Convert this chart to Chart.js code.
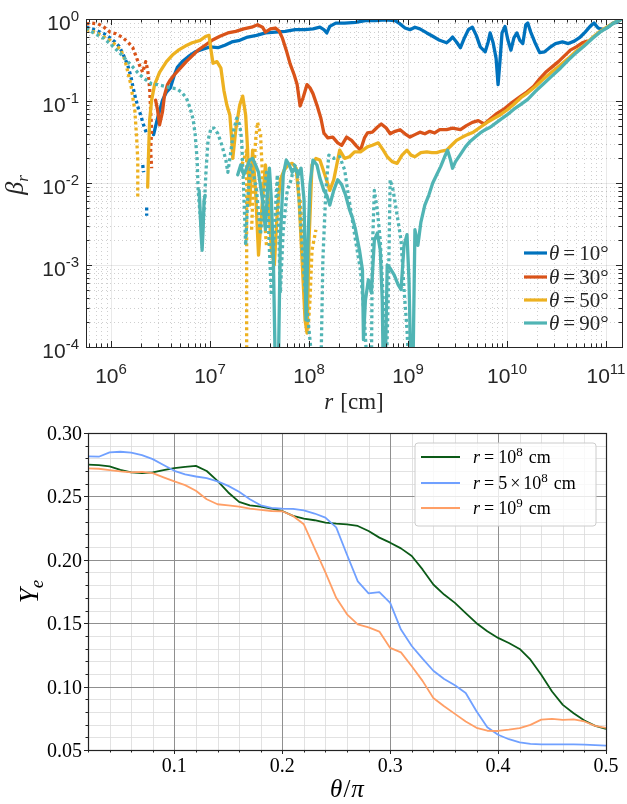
<!DOCTYPE html>
<html>
<head>
<meta charset="utf-8">
<script src="https://cdn.jsdelivr.net/npm/chart.js@4.4.1/dist/chart.umd.min.js"></script>
<style>
  html, body { margin: 0; padding: 0; background: #fff; }
  #wrap { position: relative; width: 627px; height: 804px; }
  #topBox { position: absolute; left: 0; top: 0; }
  #bottomBox { position: absolute; left: 0; top: 420px; }
</style>
</head>
<body>
<div id="wrap">
  <div id="topBox"><canvas id="betaChart" width="627" height="420"></canvas></div>
  <div id="bottomBox"><canvas id="yeChart" width="627" height="384"></canvas></div>
</div>
<script>
/*=============== DATA: beta_r vs r (values are log10 r [cm], log10 beta_r) ===============*/
// solid = outflow, dotted = inflow; null breaks the line

// theta = 10 deg
const th10R = [6.43,6.47,6.52,6.56,6.60,6.64,6.67,6.72,6.78,6.85,6.92,7.00,7.08,7.15,7.22,7.30,7.38,7.47,7.56,7.66,7.76,7.86,7.96,8.04,8.11,8.15,8.18,8.21,8.27,8.36,8.47,8.57,8.67,8.77,8.87,8.92,8.97,9.02,9.07,9.12,9.19,9.25,9.32,9.39,9.42,9.45,9.49,9.53,9.57,9.61,9.65,9.69,9.73,9.78,9.81,9.83,9.86,9.89,9.91,9.93,9.95,9.98,10.01,10.04,10.07,10.10,10.13,10.16,10.19,10.21,10.24,10.28,10.33,10.38,10.43,10.49,10.56,10.62,10.68,10.74,10.79,10.84,10.88,10.92,10.97,11.02,11.07,11.11,11.16]
const th10B = [-1.41,-1.21,-0.99,-0.89,-0.84,-0.68,-0.59,-0.52,-0.46,-0.40,-0.37,-0.34,-0.35,-0.32,-0.28,-0.26,-0.22,-0.20,-0.17,-0.16,-0.15,-0.13,-0.13,-0.12,-0.10,-0.13,-0.17,-0.09,-0.05,-0.05,-0.04,-0.02,-0.02,-0.01,-0.02,-0.06,-0.11,-0.13,-0.10,-0.12,-0.17,-0.21,-0.26,-0.29,-0.26,-0.22,-0.28,-0.35,-0.23,-0.13,-0.10,-0.20,-0.34,-0.40,-0.28,-0.17,-0.29,-0.48,-0.80,-0.50,-0.17,-0.09,-0.26,-0.38,-0.23,-0.17,-0.26,-0.30,-0.07,-0.05,-0.16,-0.28,-0.41,-0.40,-0.35,-0.30,-0.28,-0.30,-0.27,-0.22,-0.16,-0.09,-0.05,-0.11,-0.13,-0.10,-0.05,-0.04,0]
const th10InR = [5.75,5.81,5.87,5.93,5.99,6.04,6.08,6.11,6.14,6.17,6.20,6.22,6.24,6.26,6.28,6.30,6.32,6.34,6.36,6.36,6.32,6.33,6.33,6.36,6.36]
const th10InB = [-0.10,-0.12,-0.15,-0.18,-0.23,-0.28,-0.33,-0.40,-0.48,-0.57,-0.70,-0.82,-0.93,-1.02,-1.11,-1.17,-1.26,-1.33,-1.40,null,-1.78,-1.87,null,-2.30,-2.40]

// theta = 30 deg
const th30R = [6.45,6.47,6.49,6.52,6.54,6.57,6.60,6.64,6.70,6.76,6.82,6.88,6.95,7.02,7.10,7.18,7.26,7.34,7.42,7.48,7.53,7.56,7.61,7.66,7.70,7.73,7.77,7.81,7.85,7.88,7.91,7.94,7.98,8.01,8.04,8.08,8.12,8.15,8.19,8.24,8.29,8.33,8.38,8.43,8.48,8.52,8.56,8.59,8.64,8.69,8.73,8.78,8.82,8.87,8.92,8.97,9.02,9.07,9.12,9.17,9.22,9.27,9.32,9.39,9.45,9.53,9.59,9.65,9.71,9.77,9.83,9.90,9.98,10.05,10.13,10.20,10.27,10.33,10.39,10.45,10.52,10.58,10.64,10.70,10.76,10.81]
const th30B = [-0.99,-1.11,-1.29,-1.13,-0.93,-0.80,-0.74,-0.68,-0.60,-0.52,-0.45,-0.38,-0.32,-0.26,-0.21,-0.17,-0.15,-0.12,-0.10,-0.07,-0.10,-0.16,-0.12,-0.11,-0.15,-0.23,-0.38,-0.55,-0.68,-0.80,-1.06,-0.96,-0.80,-0.84,-0.91,-1.05,-1.21,-1.39,-1.45,-1.44,-1.51,-1.54,-1.44,-1.48,-1.55,-1.60,-1.45,-1.39,-1.38,-1.32,-1.28,-1.33,-1.40,-1.37,-1.35,-1.40,-1.44,-1.41,-1.38,-1.40,-1.37,-1.39,-1.35,-1.35,-1.33,-1.35,-1.30,-1.26,-1.24,-1.28,-1.22,-1.15,-1.09,-1.02,-0.95,-0.89,-0.82,-0.73,-0.65,-0.59,-0.52,-0.45,-0.38,-0.34,-0.29,-0.27]
const th30InR = [5.75,5.81,5.87,5.93,5.99,6.05,6.11,6.17,6.22,6.26,6.29,6.32,6.35,6.37,6.39,6.40,6.41,6.40,6.41]
const th30InB = [-0.06,-0.05,-0.06,-0.10,-0.16,-0.18,-0.22,-0.28,-0.35,-0.48,-0.57,-0.65,-0.52,-0.62,-0.84,-1.11,-1.35,-1.60,-1.82]

// theta = 50 deg
const th50R = [6.37,6.38,6.39,6.41,6.44,6.49,6.56,6.62,6.68,6.75,6.82,6.90,6.96,6.99,7.01,7.03,7.07,7.11,7.14,7.17,7.20,7.22,7.23,7.26,7.30,7.33,7.36,7.38,7.40,7.43,7.46,7.49,7.53,7.56,7.59,7.62,7.65,7.68,7.71,7.75,7.79,7.83,7.87,7.90,7.93,7.96,7.98,8.00,8.03,8.07,8.11,8.16,8.21,8.25,8.31,8.36,8.41,8.46,8.52,8.59,8.64,8.70,8.75,8.79,8.84,8.89,8.94,8.99,9.03,9.07,9.13,9.19,9.24,9.29,9.34,9.39,9.44,9.49,9.55,9.60,9.66,9.73,9.80,9.87,9.93,10.00,10.07,10.14,10.21,10.29,10.37,10.45,10.54,10.62,10.70,10.78,10.86,10.94,11.02,11.09,11.16]
const th50B = [-2.05,-1.60,-1.23,-0.99,-0.80,-0.65,-0.52,-0.44,-0.38,-0.33,-0.29,-0.26,-0.21,-0.20,-0.38,-0.54,-0.52,-0.60,-0.87,-1.05,-1.17,-1.48,-1.70,-1.35,-1.05,-0.94,-1.17,-1.60,-2.27,-1.60,-2.09,-2.88,-2.21,-1.78,-2.21,-2.82,-3.00,-2.33,-1.96,-1.84,-1.78,-1.76,-1.82,-2.21,-2.94,-3.67,-3.83,-2.70,-1.78,-1.70,-1.72,-1.90,-2.09,-1.96,-1.60,-1.70,-1.68,-1.62,-1.62,-1.56,-1.54,-1.51,-1.60,-1.68,-1.74,-1.76,-1.66,-1.60,-1.66,-1.68,-1.63,-1.62,-1.63,-1.63,-1.61,-1.60,-1.54,-1.48,-1.44,-1.41,-1.38,-1.32,-1.26,-1.21,-1.17,-1.11,-1.04,-0.96,-0.90,-0.82,-0.73,-0.65,-0.56,-0.48,-0.39,-0.32,-0.23,-0.15,-0.09,-0.04,0]
const th50InR = [5.75,5.81,5.87,5.93,5.99,6.05,6.10,6.14,6.17,6.20,6.22,6.24,6.25,6.26,6.27,6.27,6.27,6.27,7.30,7.34,7.37,7.37,7.37,7.37,7.37,7.37,7.42,7.44,7.46,7.48,7.51,7.53,7.55,7.57,7.57,7.91,7.94,7.97,7.99,8.01,8.03,8.07]
const th50InB = [-0.13,-0.15,-0.18,-0.22,-0.26,-0.32,-0.38,-0.50,-0.65,-0.80,-0.96,-1.11,-1.29,-1.48,-1.72,-1.96,-2.17,null,-1.84,-1.72,-1.60,-2.21,-2.94,-3.43,-4.3,null,-2.57,-1.96,-1.48,-1.26,-1.41,-1.90,-2.45,-2.76,null,-2.21,-2.70,-3.30,-3.79,-3.43,-2.82,-2.57]

// theta = 90 deg
const th90R = [6.89,6.90,6.91,6.92,6.93,6.94,6.95,6.95,
  7.28,7.31,7.34,7.37,7.40,7.43,7.46,7.49,7.53,7.56,7.58,7.60,7.62,7.64,7.66,
  7.69,7.71,7.74,7.77,7.80,7.83,7.86,7.89,7.92,7.95,7.97,7.99,8.01,8.04,8.08,8.11,8.15,8.18,8.21,8.25,8.29,8.33,8.37,8.41,8.44,8.47,8.51,8.54,8.55,8.57,8.60,8.63,8.66,8.69,8.72,8.74,8.75,
  8.77,8.79,8.82,8.86,8.90,8.93,8.96,8.99,9.01,9.03,
  9.05,9.07,9.10,9.13,9.17,9.21,9.25,9.29,9.33,9.37,9.40,9.43,9.45,9.48,9.53,9.58,9.63,9.68,9.73,9.78,9.83,9.93,10.00,10.07,10.14,10.21,10.29,10.37,10.45,10.54,10.62,10.70,10.78,10.86,10.94,11.02,11.09,11.16]
const th90B = [-2.09,-2.33,-2.63,-2.82,-2.57,-2.21,-2.15,null,
  -1.90,-1.78,-1.90,-1.82,-1.72,-1.70,-1.78,-1.87,-2.21,-2.57,-2.09,-1.82,-2.21,-2.94,-4.3,
  -4.3,-2.70,-1.90,-1.72,-1.78,-1.87,-1.82,-1.90,-1.82,-2.21,-3.67,-2.70,-2.02,-1.72,-1.78,-1.94,-2.09,-2.15,-2.27,-2.09,-1.96,-2.02,-2.15,-2.33,-2.43,-2.57,-2.82,-3.06,-3.91,-3.43,-3.18,-3.34,-2.70,-2.61,-2.82,-3.43,-4.3,
  -4.3,-3.00,-3.04,-3.12,-3.24,-3.30,-2.76,-2.63,-3.18,-4.3,
  -4.3,-2.57,-2.76,-2.48,-2.27,-2.15,-2.00,-1.90,-1.80,-1.68,-1.60,-1.72,-1.82,-1.74,-1.65,-1.56,-1.49,-1.44,-1.39,-1.35,-1.32,-1.23,-1.17,-1.10,-1.04,-0.98,-0.88,-0.79,-0.70,-0.60,-0.50,-0.41,-0.33,-0.24,-0.16,-0.10,-0.04,0]
const th90InR = [5.75,5.81,5.87,5.93,5.99,6.05,6.11,6.17,6.23,6.29,6.35,6.41,6.47,6.54,6.60,6.66,6.71,6.76,6.80,6.83,6.85,6.87,6.88,6.90,6.92,6.94,6.96,6.98,7.01,7.04,7.08,7.12,7.16,7.18,7.21,7.24,7.27,7.30,7.32,7.34,7.36,7.38,7.41,7.44,7.47,7.51,7.54,7.57,7.60,7.62,7.65,7.68,7.71,7.74,7.78,7.82,7.85,7.88,7.92,7.96,8.00,8.04,
  8.12,8.14,8.17,8.20,8.25,8.31,8.36,8.39,8.43,8.47,8.52,8.56,8.59,
  8.63,8.64,8.66,8.69,8.72,8.75,8.78,
  8.80,8.82,8.85,8.89,8.93,8.96,8.99,9.01]
const th90InB = [-0.11,-0.16,-0.20,-0.24,-0.30,-0.37,-0.44,-0.52,-0.60,-0.68,-0.74,-0.79,-0.80,-0.82,-0.84,-0.85,-0.89,-0.96,-1.09,-1.23,-1.41,-1.72,-2.09,-2.39,-2.63,-2.33,-1.84,-1.48,-1.33,-1.33,-1.40,-1.54,-1.72,-1.87,-1.62,-1.35,-1.21,-1.29,-1.48,-2.09,-2.76,-2.21,-1.78,-1.90,-2.09,-2.63,-2.21,-1.87,-2.82,-3.37,-2.57,-1.90,-3.34,-2.57,-2.09,-1.96,-1.78,-1.82,-2.57,-3.30,-3.79,-4.3,
  -4.3,-2.94,-2.09,-1.66,-1.70,-1.68,-1.84,-2.09,-2.39,-2.70,-3.06,-3.67,-4.3,
  -4.3,-2.82,-2.09,-2.33,-2.70,-3.43,-4.3,
  -3.43,-1.96,-2.09,-2.39,-2.70,-3.30,-3.79,-4.3]

const thetaLabels = ['10', '30', '50', '90']
const xExponents = [6, 7, 8, 9, 10, 11]
const yExponents = [0, -1, -2, -3, -4]

/*=============== DATA: Y_e vs theta/pi ===============*/
const thetaPi = [0.02,0.03,0.04,0.05,0.06,0.07,0.08,0.09,0.10,0.11,0.12,0.13,0.14,0.15,0.16,0.17,0.18,0.19,0.20,0.21,0.22,0.23,0.24,0.25,0.26,0.27,0.28,0.29,0.30,0.31,0.32,0.33,0.34,0.35,0.36,0.37,0.38,0.39,0.40,0.41,0.42,0.43,0.44,0.45,0.46,0.47,0.48,0.49,0.50]
const yeR1e8 = [0.275,0.2747,0.2736,0.271,0.269,0.2684,0.269,0.2707,0.2723,0.2733,0.2741,0.270,0.2623,0.2531,0.2457,0.243,0.242,0.2404,0.2385,0.2346,0.2325,0.2312,0.2293,0.2285,0.228,0.2267,0.2227,0.2175,0.2135,0.209,0.203,0.1924,0.1805,0.1726,0.166,0.158,0.150,0.1436,0.1384,0.1344,0.1297,0.1212,0.1093,0.0961,0.0856,0.079,0.0732,0.069,0.0666]
const yeR5e8 = [0.2816,0.2813,0.2847,0.2852,0.2845,0.2826,0.2794,0.2747,0.2702,0.2673,0.2657,0.2644,0.2618,0.2583,0.2536,0.2478,0.243,0.2409,0.2404,0.2402,0.239,0.2365,0.2333,0.2256,0.204,0.183,0.1735,0.1745,0.166,0.145,0.132,0.122,0.1125,0.106,0.101,0.095,0.0805,0.068,0.062,0.0585,0.056,0.0548,0.0545,0.0545,0.0545,0.0545,0.0542,0.0538,0.0534]
const yeR1e9 = [0.2721,0.2718,0.2707,0.2697,0.269,0.2694,0.2684,0.265,0.2618,0.2589,0.2544,0.2478,0.2438,0.243,0.242,0.2404,0.2394,0.2385,0.2383,0.2346,0.228,0.209,0.19,0.17,0.157,0.149,0.1467,0.1434,0.1305,0.127,0.116,0.1045,0.091,0.0845,0.0785,0.0725,0.0675,0.0652,0.065,0.066,0.0672,0.0698,0.074,0.0745,0.0738,0.0742,0.0725,0.069,0.0674]

/*=============== HELPERS ===============*/
const C10 = '#0072BD', C30 = '#D95319', C50 = '#EDB120', C90 = '#50B4B4'
const SANS = '"Liberation Sans", Arial, sans-serif'
const serif = (size, italic) => (italic ? 'italic ' : '') + size + 'px "Liberation Serif", "DejaVu Serif", serif'

const richWidth = (ctx, parts) => parts.reduce((w, p) => {
  ctx.font = p.font
  return w + ctx.measureText(p.t).width + (p.gap || 0)
}, 0)

// draw a run of text pieces (font / vertical shift per piece)
const drawRich = (ctx, x, y, parts, align) => {
  let cx = x
  const w = richWidth(ctx, parts)
  if (align === 'center') cx -= w / 2
  if (align === 'right') cx -= w
  ctx.textAlign = 'left'
  ctx.textBaseline = 'alphabetic'
  parts.forEach(p => {
    ctx.font = p.font
    ctx.fillText(p.t, cx, y + (p.dy || 0))
    cx += ctx.measureText(p.t).width + (p.gap || 0)
  })
}

const logMarks = (scale) => {
  const out = []
  const lo = Math.floor(Math.log10(scale.min)), hi = Math.ceil(Math.log10(scale.max))
  for (let e = lo; e <= hi; e++) {
    for (let m = 1; m <= 9; m++) {
      const v = m * Math.pow(10, e)
      if (v < scale.min * 0.999 || v > scale.max * 1.001) continue
      out.push({ px: scale.getPixelForValue(v), major: m === 1 })
    }
  }
  return out
}

const line = (ctx, x1, y1, x2, y2) => {
  ctx.beginPath(); ctx.moveTo(x1, y1); ctx.lineTo(x2, y2); ctx.stroke()
}

/*=============== TOP PANEL (matlab look) ===============*/
const matlabFrame = {
  id: 'matlabFrame',
  beforeDatasetsDraw(chart) {
    const { ctx, chartArea: a, scales: { x, y } } = chart
    const xm = logMarks(x), ym = logMarks(y)
    ctx.save()
    ctx.lineWidth = 1
    // minor dotted grid
    ctx.strokeStyle = 'rgba(38,38,38,0.22)'
    ctx.setLineDash([1, 3])
    xm.filter(t => !t.major).forEach(t => { const p = Math.round(t.px) + 0.5; line(ctx, p, a.top, p, a.bottom) })
    ym.filter(t => !t.major).forEach(t => { const p = Math.round(t.px) + 0.5; line(ctx, a.left, p, a.right, p) })
    // major grid
    ctx.setLineDash([])
    ctx.strokeStyle = 'rgba(38,38,38,0.10)'
    xm.filter(t => t.major).forEach(t => { const p = Math.round(t.px) + 0.5; line(ctx, p, a.top, p, a.bottom) })
    ym.filter(t => t.major).forEach(t => { const p = Math.round(t.px) + 0.5; line(ctx, a.left, p, a.right, p) })
    ctx.restore()
  },
  afterDatasetsDraw(chart) {
    const { ctx, chartArea: a, scales: { x, y } } = chart
    ctx.save()
    ctx.strokeStyle = '#262626'
    ctx.fillStyle = '#262626'
    ctx.lineWidth = 1
    // ticks pointing inward on all four sides
    logMarks(x).forEach(t => {
      const p = Math.round(t.px) + 0.5, len = t.major ? 6 : 3.5
      line(ctx, p, a.bottom, p, a.bottom - len)
      line(ctx, p, a.top, p, a.top + len)
    })
    logMarks(y).forEach(t => {
      const p = Math.round(t.px) + 0.5, len = t.major ? 6 : 3.5
      line(ctx, a.left, p, a.left + len, p)
      line(ctx, a.right, p, a.right - len, p)
    })
    ctx.strokeRect(Math.round(a.left) + 0.5, Math.round(a.top) + 0.5, Math.round(a.right - a.left), Math.round(a.bottom - a.top))

    // tick labels 10^n
    xExponents.forEach(e => {
      const px = x.getPixelForValue(Math.pow(10, e))
      drawRich(ctx, px, 383, [
        { t: '10', font: '21px ' + SANS },
        { t: String(e), font: '15px ' + SANS, dy: -9 }
      ], 'center')
    })
    yExponents.forEach(e => {
      const py = y.getPixelForValue(Math.pow(10, e))
      drawRich(ctx, 79, py + 11, [
        { t: '10', font: '21px ' + SANS },
        { t: e === 0 ? '0' : '-' + Math.abs(e), font: '15px ' + SANS, dy: -9 }
      ], 'right')
    })

    // axis titles
    drawRich(ctx, (a.left + a.right) / 2, 409, [
      { t: 'r', font: serif(23, true), gap: 7 },
      { t: '[cm]', font: serif(23, false) }
    ], 'center')
    ctx.save()
    ctx.translate(23, (a.top + a.bottom) / 2 + 2)
    ctx.rotate(-Math.PI / 2)
    drawRich(ctx, 0, 0, [
      { t: 'β', font: serif(26, true) },
      { t: 'r', font: serif(17, true), dy: 5 }
    ], 'center')
    ctx.restore()

    // legend (solid lines only)
    const colors = [C10, C30, C50, C90]
    const rows = [253, 277, 300, 323]
    ctx.lineWidth = 3.2
    thetaLabels.forEach((lab, i) => {
      ctx.strokeStyle = colors[i]
      line(ctx, 524, rows[i], 547, rows[i])
      drawRich(ctx, 549, rows[i] + 7, [
        { t: 'θ', font: serif(21, true), gap: 4 },
        { t: '=', font: serif(21, false), gap: 4 },
        { t: lab + '°', font: serif(21, false) }
      ], 'left')
    })
    ctx.restore()
  }
}

const toPts = (rs, bs) => rs.map((r, i) => ({ x: Math.pow(10, r), y: bs[i] === null ? null : Math.pow(10, bs[i]) }))
const betaSet = (rs, bs, color, dotted, order) => ({
  data: toPts(rs, bs),
  borderColor: color,
  borderWidth: 3.3,
  pointRadius: 0,
  showLine: true,
  spanGaps: false,
  borderDash: dotted ? [3, 3] : [],
  borderCapStyle: dotted ? 'butt' : 'round',
  borderJoinStyle: 'round',
  order
})

new Chart(document.getElementById('betaChart'), {
  type: 'scatter',
  data: {
    datasets: [
      betaSet(th10R, th10B, C10, false, 8),
      betaSet(th10InR, th10InB, C10, true, 7),
      betaSet(th30R, th30B, C30, false, 6),
      betaSet(th30InR, th30InB, C30, true, 5),
      betaSet(th50R, th50B, C50, false, 4),
      betaSet(th50InR, th50InB, C50, true, 3),
      betaSet(th90R, th90B, C90, false, 2),
      betaSet(th90InR, th90InB, C90, true, 1)
    ]
  },
  options: {
    responsive: false,
    animation: false,
    events: [],
    layout: { padding: { top: 19, right: 5, left: 0, bottom: 0 } },
    plugins: { legend: { display: false }, tooltip: { enabled: false } },
    scales: {
      x: {
        type: 'logarithmic', min: Math.pow(10, 5.747), max: Math.pow(10, 11.162),
        grid: { display: false }, border: { display: false }, ticks: { display: false },
        afterFit: s => { s.height = 73 }
      },
      y: {
        type: 'logarithmic', min: 1e-4, max: 1,
        grid: { display: false }, border: { display: false }, ticks: { display: false },
        afterFit: s => { s.width = 86 }
      }
    }
  },
  plugins: [matlabFrame]
})

/*=============== BOTTOM PANEL (matplotlib look) ===============*/
const mplFrame = {
  id: 'mplFrame',
  beforeDatasetsDraw(chart) {
    const { ctx, chartArea: a, scales: { x, y } } = chart
    ctx.save()
    // minor grid
    ctx.strokeStyle = '#dadada'
    ctx.lineWidth = 0.8
    for (let k = 2; k <= 48; k += 2) {
      if (k % 10 === 0) continue
      const p = Math.round(x.getPixelForValue(k / 100)) + 0.5
      line(ctx, p, a.top, p, a.bottom)
    }
    for (let k = 6; k <= 29; k++) {
      if (k % 5 === 0) continue
      const p = Math.round(y.getPixelForValue(k / 100)) + 0.5
      line(ctx, a.left, p, a.right, p)
    }
    // major grid
    ctx.strokeStyle = '#8f8f8f'
    ctx.lineWidth = 1
    for (let k = 10; k <= 40; k += 10) {
      const p = Math.round(x.getPixelForValue(k / 100)) + 0.5
      line(ctx, p, a.top, p, a.bottom)
    }
    for (let k = 10; k <= 25; k += 5) {
      const p = Math.round(y.getPixelForValue(k / 100)) + 0.5
      line(ctx, a.left, p, a.right, p)
    }
    ctx.restore()
  },
  afterDatasetsDraw(chart) {
    const { ctx, chartArea: a, scales: { x, y } } = chart
    ctx.save()
    ctx.strokeStyle = '#222'
    ctx.fillStyle = '#000'
    ctx.lineWidth = 1.2
    ctx.strokeRect(Math.round(a.left) + 0.5, Math.round(a.top) + 0.5, Math.round(a.right - a.left), Math.round(a.bottom - a.top))
    ctx.lineWidth = 1
    // outward ticks
    for (let k = 2; k <= 50; k += 2) {
      const p = Math.round(x.getPixelForValue(k / 100)) + 0.5
      line(ctx, p, a.bottom, p, a.bottom + (k % 10 === 0 ? 4 : 2.5))
    }
    for (let k = 5; k <= 30; k++) {
      const p = Math.round(y.getPixelForValue(k / 100)) + 0.5
      line(ctx, a.left, p, a.left - (k % 5 === 0 ? 4 : 2.5), p)
    }
    // tick labels
    for (let k = 10; k <= 50; k += 10) {
      drawRich(ctx, x.getPixelForValue(k / 100), 352, [{ t: (k / 100).toFixed(1), font: serif(20, false) }], 'center')
    }
    for (let k = 5; k <= 30; k += 5) {
      drawRich(ctx, 82, y.getPixelForValue(k / 100) + 7, [{ t: (k / 100).toFixed(2), font: serif(20, false) }], 'right')
    }
    // axis titles
    drawRich(ctx, (a.left + a.right) / 2, 377, [
      { t: 'θ', font: serif(25, true), gap: 1 },
      { t: '/', font: serif(25, false), gap: 1 },
      { t: 'π', font: serif(25, true) }
    ], 'center')
    ctx.save()
    ctx.translate(38, (a.top + a.bottom) / 2)
    ctx.rotate(-Math.PI / 2)
    drawRich(ctx, 0, 0, [
      { t: 'Y', font: serif(27, true) },
      { t: 'e', font: serif(19, true), dy: 5 }
    ], 'center')
    ctx.restore()

    // legend box
    const lx = 415, ly = 23, lw = 181, lh = 83, r = 3
    ctx.beginPath()
    ctx.moveTo(lx + r, ly)
    ctx.arcTo(lx + lw, ly, lx + lw, ly + lh, r)
    ctx.arcTo(lx + lw, ly + lh, lx, ly + lh, r)
    ctx.arcTo(lx, ly + lh, lx, ly, r)
    ctx.arcTo(lx, ly, lx + lw, ly, r)
    ctx.closePath()
    ctx.fillStyle = 'rgba(255,255,255,0.8)'
    ctx.fill()
    ctx.strokeStyle = '#cccccc'
    ctx.lineWidth = 1
    ctx.stroke()

    const entries = [
      { color: '#0b5a17', parts: [{ t: '10', font: serif(18, false) }, { t: '8', font: serif(13, false), dy: -7, gap: 6 }, { t: 'cm', font: serif(18, false) }] },
      { color: '#70a0ff', parts: [{ t: '5', font: serif(18, false), gap: 3 }, { t: '×', font: serif(18, false), gap: 3 }, { t: '10', font: serif(18, false) }, { t: '8', font: serif(13, false), dy: -7, gap: 6 }, { t: 'cm', font: serif(18, false) }] },
      { color: '#ff9f66', parts: [{ t: '10', font: serif(18, false) }, { t: '9', font: serif(13, false), dy: -7, gap: 6 }, { t: 'cm', font: serif(18, false) }] }
    ]
    const rows = [37, 63, 88]
    entries.forEach((en, i) => {
      ctx.strokeStyle = en.color
      ctx.lineWidth = 1.8
      line(ctx, 421, rows[i], 460, rows[i])
      ctx.fillStyle = '#000'
      drawRich(ctx, 473, rows[i] + 6, [
        { t: 'r', font: serif(18, true), gap: 4 },
        { t: '=', font: serif(18, false), gap: 4 }
      ].concat(en.parts), 'left')
    })
    ctx.restore()
  }
}

const yeSet = (ys, color, order) => ({
  data: thetaPi.map((t, i) => ({ x: t, y: ys[i] })),
  borderColor: color,
  borderWidth: 1.8,
  pointRadius: 0,
  showLine: true,
  borderJoinStyle: 'round',
  order
})

new Chart(document.getElementById('yeChart'), {
  type: 'scatter',
  data: {
    datasets: [
      yeSet(yeR1e8, '#0b5a17', 3),
      yeSet(yeR5e8, '#70a0ff', 2),
      yeSet(yeR1e9, '#ff9f66', 1)
    ]
  },
  options: {
    responsive: false,
    animation: false,
    events: [],
    layout: { padding: { top: 13, right: 21, left: 0, bottom: 0 } },
    plugins: { legend: { display: false }, tooltip: { enabled: false } },
    scales: {
      x: {
        type: 'linear', min: 0.02, max: 0.5,
        grid: { display: false }, border: { display: false }, ticks: { display: false },
        afterFit: s => { s.height = 54 }
      },
      y: {
        type: 'linear', min: 0.05, max: 0.30,
        grid: { display: false }, border: { display: false }, ticks: { display: false },
        afterFit: s => { s.width = 88 }
      }
    }
  },
  plugins: [mplFrame]
})
</script>
</body>
</html>
